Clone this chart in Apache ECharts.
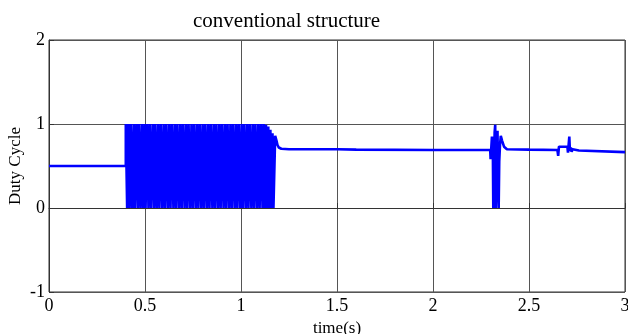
<!DOCTYPE html>
<html>
<head>
<meta charset="utf-8">
<script src="https://cdn.jsdelivr.net/npm/echarts@6/dist/echarts.min.js"></script>
<style>
  html, body { margin: 0; padding: 0; background: #fff; }
  #main { width: 628px; height: 334px; }
</style>
</head>
<body>
<div id="main"></div>
<script>
// steady part before the switching
var startPts = [[0, 0.5], [0.4, 0.5]];
// toggle times of the switching block (level alternates 1 / 0)
var switchTimes = [0.400, 0.407, 0.413, 0.420, 0.426, 0.434, 0.441, 0.447, 0.455, 0.462,
  0.468, 0.476, 0.483, 0.490, 0.497, 0.503, 0.511, 0.518, 0.525, 0.532,
  0.540, 0.547, 0.553, 0.561, 0.568, 0.575, 0.582, 0.590, 0.597, 0.604,
  0.611, 0.619, 0.626, 0.633, 0.640, 0.648, 0.655, 0.662, 0.669, 0.677,
  0.684, 0.691, 0.698, 0.706, 0.713, 0.720, 0.727, 0.735, 0.742, 0.749,
  0.756, 0.764, 0.771, 0.778, 0.785, 0.793, 0.800, 0.807, 0.814, 0.822,
  0.829, 0.836, 0.843, 0.851, 0.858, 0.865, 0.872, 0.880, 0.887, 0.894,
  0.901, 0.909, 0.916, 0.923, 0.930, 0.938, 0.945, 0.952, 0.959, 0.967,
  0.974, 0.981, 0.988, 0.996, 1.003, 1.010, 1.017, 1.025, 1.032, 1.039,
  1.046, 1.054, 1.061, 1.068, 1.075, 1.083, 1.090, 1.097, 1.104, 1.112];
// end of switching and settling
var tailPts = [[1.112, 0], [1.118, 0], [1.118, 1], [1.124, 1], [1.124, 0], [1.130, 0],
  [1.130, 0.99], [1.136, 0.99], [1.136, 0], [1.142, 0], [1.142, 0.97], [1.147, 0.95],
  [1.147, 0], [1.153, 0], [1.153, 0.93], [1.158, 0.91], [1.158, 0], [1.164, 0],
  [1.164, 0.89], [1.169, 0.87], [1.169, 0], [1.176, 0], [1.178, 0.86], [1.185, 0.80],
  [1.190, 0.75], [1.197, 0.72], [1.210, 0.705], [1.250, 0.70]];
var steadyPts = [[1.5, 0.70], [1.6, 0.695], [2.0, 0.69], [2.298, 0.69]];
// first disturbance near t = 2.3 s
var dist1Pts = [[2.300, 0.58], [2.305, 0.60], [2.307, 0.85], [2.312, 0.60], [2.314, 0.0],
  [2.318, 0.0], [2.321, 0.90], [2.324, 0.99], [2.327, 0.0], [2.333, 0.0], [2.336, 0.92],
  [2.339, 0.30], [2.342, 0.0], [2.345, 0.55], [2.349, 0.75], [2.353, 0.86], [2.360, 0.80],
  [2.370, 0.73], [2.385, 0.70], [2.500, 0.695], [2.648, 0.69]];
// second disturbance near t = 2.65 s
var dist2Pts = [[2.651, 0.69], [2.652, 0.62], [2.655, 0.62], [2.656, 0.73], [2.700, 0.73],
  [2.703, 0.66], [2.707, 0.66], [2.710, 0.85], [2.713, 0.68], [2.718, 0.72], [2.722, 0.67],
  [2.727, 0.70], [2.733, 0.68], [2.760, 0.685], [3.0, 0.665]];

var trace = startPts.slice();
var level = 0.5;
switchTimes.forEach(function (t, i) {
  var next = i % 2 === 0 ? 1 : 0;
  trace.push([t, level]);
  trace.push([t, next]);
  level = next;
});
trace = trace.concat(tailPts, steadyPts, dist1Pts, dist2Pts);

var font = 'Liberation Serif';
var chart = echarts.init(document.getElementById('main'));
chart.setOption({
  animation: false,
  title: {
    text: 'conventional structure',
    left: 188, top: 6,
    textStyle: { fontFamily: font, fontSize: 21, fontWeight: 'normal', color: '#000' }
  },
  grid: {
    left: 49, right: 3, top: 40, bottom: 42,
    containLabel: false, outerBoundsMode: 'none',
    show: true, borderColor: '#333', borderWidth: 1
  },
  xAxis: {
    type: 'value', min: 0, max: 3, interval: 0.5,
    name: 'time(s)', nameLocation: 'middle', nameGap: 25,
    nameTextStyle: { fontFamily: font, fontSize: 17, color: '#000' },
    axisLine: { lineStyle: { color: '#333' } },
    axisTick: { inside: true, length: 5, lineStyle: { color: '#333' } },
    axisLabel: { fontFamily: font, fontSize: 18, color: '#000', margin: 5 },
    splitLine: { show: true, lineStyle: { color: '#555', width: 1 } }
  },
  yAxis: {
    type: 'value', min: -1, max: 2, interval: 1,
    name: 'Duty Cycle', nameLocation: 'middle', nameGap: 25, nameRotate: 90,
    nameMoveOverlap: false,
    nameTextStyle: { fontFamily: font, fontSize: 17, color: '#000' },
    axisLine: { show: true, lineStyle: { color: '#333' } },
    axisTick: { show: true, inside: true, length: 5, lineStyle: { color: '#333' } },
    axisLabel: { fontFamily: font, fontSize: 18, color: '#000', margin: 4 },
    splitLine: { show: true, lineStyle: { color: '#555', width: 1 } }
  },
  series: [{
    type: 'line',
    data: trace,
    showSymbol: false,
    sampling: false,
    lineStyle: { color: '#0000ff', width: 2.6 },
    itemStyle: { color: '#0000ff' }
  }]
});
</script>
</body>
</html>
